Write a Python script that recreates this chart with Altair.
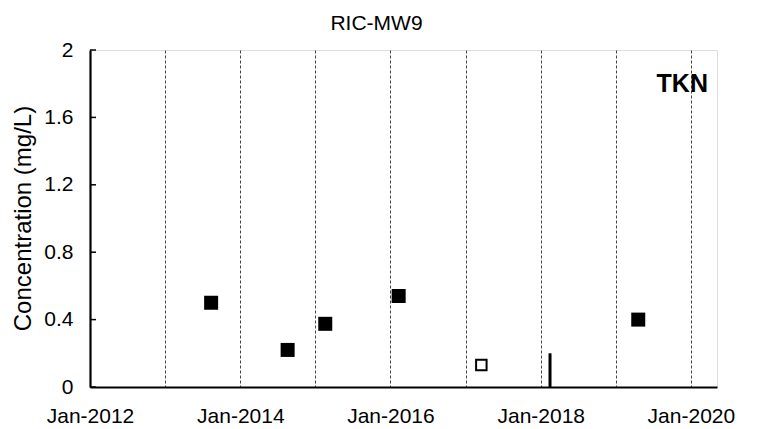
import altair as alt
import pandas as pd

# detected results (filled squares)
det_dates = ["2013-08-12T00:00:00", "2014-08-19T00:00:00", "2015-02-18T00:00:00",
             "2016-02-10T00:00:00", "2019-04-20T00:00:00"]
det_values = [0.50, 0.22, 0.375, 0.54, 0.40]

# non-detect (hollow square)
nd_dates = ["2017-03-18T00:00:00"]
nd_values = [0.13]

# vertical bar marker
bar_dates = ["2018-02-15T00:00:00"]
bar_low = [0.0]
bar_high = [0.20]

# y ticks
y_ticks = [0, 0.4, 0.8, 1.2, 1.6, 2]

# annotation
ann_label = ["TKN"]
ann_dates = ["2020-03-24T00:00:00"]
ann_values = [1.75]

chart_title = ["RIC-MW9"]

FONT = "Liberation Sans"

x_enc = alt.X(
    "date:T",
    scale=alt.Scale(domain=[alt.DateTime(year=2012, month=1, date=1),
                            alt.DateTime(year=2020, month=5, date=7)]),
    axis=alt.Axis(
        values=[alt.DateTime(year=y, month=1, date=1) for y in range(2012, 2021)],
        labelExpr="year(datum.value) % 2 == 0 ? timeFormat(datum.value, '%b-%Y') : ''",
        grid=True, gridDash=[3, 2], gridColor="#444", gridWidth=1,
        ticks=False, labelPadding=18, labelFontSize=21, labelFont=FONT,
        labelColor="black", domainColor="black", domainWidth=2.2,
        title=None, labelFlush=False, labelOverlap=False,
    ),
)
y_enc = alt.Y(
    "value:Q",
    scale=alt.Scale(domain=[0, 2], nice=False, zero=True),
    axis=alt.Axis(
        values=y_ticks, format="~g", grid=False, ticks=False,
        labelPadding=17, labelFontSize=21, labelFont=FONT, labelColor="black",
        domainColor="black", domainWidth=2.2,
        title="Concentration (mg/L)", titleFont=FONT, titleFontSize=24,
        titleFontWeight="normal", titleColor="black",
        titleX=-67, titleY=168, titleAngle=270, titleAlign="center",
        titleBaseline="middle",
    ),
)

det_df = pd.DataFrame({"date": det_dates, "value": det_values})
nd_df = pd.DataFrame({"date": nd_dates, "value": nd_values})
bar_df = pd.DataFrame({"date": bar_dates, "value": bar_low, "value2": bar_high})
tick_df = pd.DataFrame({"value": y_ticks})
ann_df = pd.DataFrame({"date": ann_dates, "value": ann_values, "label": ann_label})
title_df = pd.DataFrame({"label": chart_title})

filled = alt.Chart(det_df).mark_square(size=196, filled=True, color="black", opacity=1).encode(
    x=x_enc, y=y_enc)
hollow = alt.Chart(nd_df).mark_square(size=110, filled=False, color="black",
                                      strokeWidth=2, opacity=1).encode(x=x_enc, y=y_enc)
bar = alt.Chart(bar_df).mark_rule(color="black", strokeWidth=3).encode(
    x=x_enc, y=y_enc, y2="value2:Q")
ticks = alt.Chart(tick_df).mark_rule(color="black", strokeWidth=1.5).encode(
    x=alt.value(0), x2=alt.value(6), y=y_enc)
ann = alt.Chart(ann_df).mark_text(align="right", baseline="alphabetic", font=FONT,
                                   fontSize=25, fontWeight="bold", color="black").encode(
    x=x_enc, y=y_enc, text="label:N")
title = alt.Chart(title_df).mark_text(align="center", baseline="alphabetic", font=FONT,
                                      fontSize=21, color="black").encode(
    x=alt.value(286.5), y=alt.value(-20), text="label:N")

chart = alt.layer(ticks, bar, hollow, filled, ann, title).properties(
    width=627, height=337,
    autosize=alt.AutoSizeParams(type="none"),
    padding={"left": 82, "top": 42, "right": 26, "bottom": 40},
).configure_view(stroke="black", strokeWidth=1.4).configure(background="white")

chart.save("out.html", embed_options={"renderer": "svg", "actions": False})
